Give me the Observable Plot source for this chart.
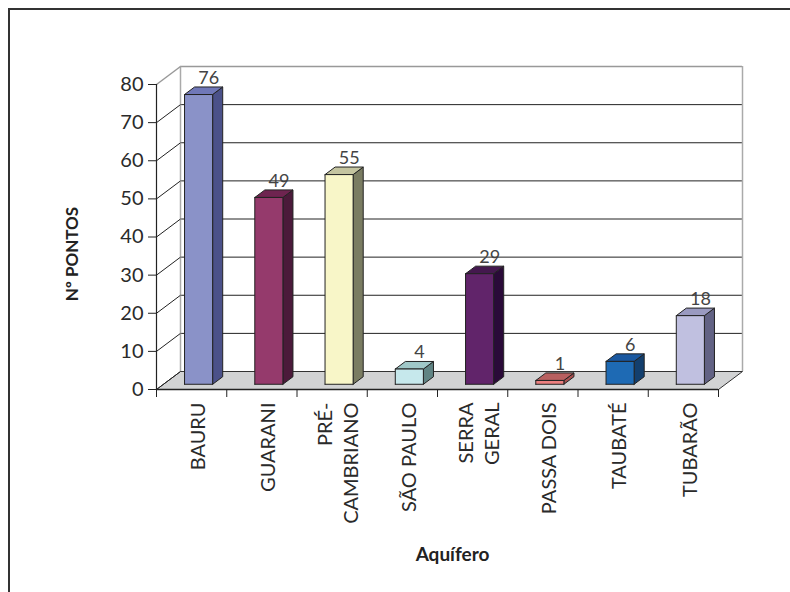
<!DOCTYPE html>
<html>
<head>
<meta charset="utf-8">
<script src="https://cdn.jsdelivr.net/npm/d3@7"></script>
<script src="https://cdn.jsdelivr.net/npm/@observablehq/plot@0.6"></script>
<style>
  html, body { margin: 0; padding: 0; background: #fff; }
  #wrap { position: relative; width: 790px; height: 592px; overflow: hidden; }
  #frame { position: absolute; left: 8px; top: 8px; right: -10px; bottom: -10px;
           border-left: 2px solid #333; border-top: 2px solid #333; pointer-events: none; }
</style>
</head>
<body>
<div id="wrap"></div>
<script>
// ---- data ----
const categories = ["BAURU", "GUARANI", "PRÉ-\nCAMBRIANO", "SÃO PAULO", "SERRA\nGERAL", "PASSA DOIS", "TAUBATÉ", "TUBARÃO"];
const values = [76, 49, 55, 4, 29, 1, 6, 18];
const frontColors = ["#8a92c8", "#953a6c", "#f8f6c8", "#c6e8ec", "#61246a", "#ec8080", "#1e6ab4", "#c0c0e0"];
const sideColors  = ["#4b5189", "#4b1a3a", "#7a7c62", "#608484", "#2a0a38", "#a85050", "#133f6e", "#626284"];
const topColors   = ["#7078b8", "#6e2450", "#c4c4a0", "#a0c8c8", "#44184e", "#b86060", "#1a58a0", "#9a9ac0"];
const yTicks = [0, 10, 20, 30, 40, 50, 60, 70, 80];
const yTitle = "Nº PONTOS";
const xTitle = "Aquífero";

// ---- layout / style constants ----
const W = 790, H = 592;
const mL = 156, mR = 72, mT = 84, mB = 203;
const n = categories.length;
const yMax = 80;
const pxPerX = (W - mL - mR) / n;
const pxPerY = (H - mT - mB) / yMax;
const FX = 24, FY = 18;              // floor depth in px
const dxU = FX / pxPerX, dyU = FY / pxPerY;
const f0 = 0.29, f1 = 0.71, hw = 0.2; // bar depth position & half width
const ddx = (f1 - f0) * dxU, ddy = (f1 - f0) * dyU;

function poly(pts, fill, stroke, sw = 1) {
  const closed = pts.concat([pts[0]]).map(([x, y]) => ({x, y}));
  return Plot.line(closed, {x: "x", y: "y", fill, stroke, strokeWidth: sw, curve: "linear", strokeLinejoin: "round"});
}

const marks = [];
// back wall gridlines
marks.push(Plot.ruleY(yTicks.filter(t => t > 0 && t < yMax), {y: t => t + dyU, x1: dxU, x2: n + dxU, stroke: "#222", strokeWidth: 1}));
marks.push(Plot.ruleY([yMax], {y: t => t + dyU, x1: dxU, x2: n + dxU, stroke: "#999", strokeWidth: 1.5}));
marks.push(Plot.ruleX([dxU, n + dxU], {x: d => d, y1: dyU, y2: yMax + dyU, stroke: "#aaa", strokeWidth: 1.5}));
// floor
marks.push(poly([[0, 0], [n, 0], [n + dxU, dyU], [dxU, dyU]], "#d2d3d4", "#333", 1));
// left wall diagonals
marks.push(Plot.link(yTicks.filter(t => t < yMax), {x1: 0, y1: t => t, x2: dxU, y2: t => t + dyU, stroke: "#222", strokeWidth: 1}));
marks.push(Plot.link([yMax], {x1: 0, y1: t => t, x2: dxU, y2: t => t + dyU, stroke: "#999", strokeWidth: 1.5}));

// bars
values.forEach((v, i) => {
  const x0 = i + 0.5 - hw + f0 * dxU, x1 = i + 0.5 + hw + f0 * dxU;
  const yb = f0 * dyU, yt = v + f0 * dyU;
  marks.push(poly([[x1, yb], [x1 + ddx, yb + ddy], [x1 + ddx, yt + ddy], [x1, yt]], sideColors[i], "#222"));
  marks.push(poly([[x0, yt], [x1, yt], [x1 + ddx, yt + ddy], [x0 + ddx, yt + ddy]], topColors[i], "#222"));
  marks.push(poly([[x0, yb], [x1, yb], [x1, yt], [x0, yt]], frontColors[i], "#222"));
});

// axes
marks.push(Plot.ruleX([0], {y1: 0, y2: yMax, stroke: "#222", strokeWidth: 1.2}));
marks.push(Plot.ruleY([0], {x1: 0, x2: n, stroke: "#222", strokeWidth: 1.5}));
marks.push(Plot.axisY({ticks: yTicks, tickSize: 8, tickPadding: 5, fontSize: 20, label: null, stroke: "#222", fill: "#2a2a2a"}));
marks.push(Plot.axisX({ticks: d3.range(0, n + 1), tickSize: 8, tickFormat: () => "", label: null, stroke: "#222"}));

// value labels
marks.push(Plot.text(values, {
  x: (d, i) => i + 0.5 + f1 * dxU, y: d => d + f1 * dyU,
  text: d => String(d), textAnchor: "middle", lineAnchor: "bottom", dy: -3,
  fontSize: 18, fill: "#444"
}));

// category labels
marks.push(Plot.text(categories, {
  x: (d, i) => i + 0.5, y: 0, text: d => d, rotate: -90,
  textAnchor: "end", lineAnchor: "middle", lineHeight: 1.3,
  dx: 5, dy: 13, fontSize: 20, fill: "#2a2a2a"
}));

// titles
marks.push(Plot.text([yTitle], {frameAnchor: "left", text: d => d, rotate: -90, dx: -84, dy: 17, fontSize: 17, fontWeight: "bold", fill: "#222", textAnchor: "middle"}));
marks.push(Plot.text([xTitle], {frameAnchor: "bottom", text: d => d, dx: 15, dy: 171, fontSize: 19, fontWeight: "bold", fill: "#222", textAnchor: "middle", letterSpacing: "0.8px"}));

const chart = Plot.plot({
  width: W, height: H,
  marginLeft: mL, marginRight: mR, marginTop: mT, marginBottom: mB,
  x: {type: "linear", domain: [0, n]},
  y: {type: "linear", domain: [0, yMax]},
  style: {fontFamily: "Lato, 'Open Sans', sans-serif", background: "white", overflow: "visible"},
  marks
});
const wrap = document.getElementById("wrap");
wrap.appendChild(chart);
const fr = document.createElement("div");
fr.id = "frame";
wrap.appendChild(fr);
</script>
</body>
</html>
